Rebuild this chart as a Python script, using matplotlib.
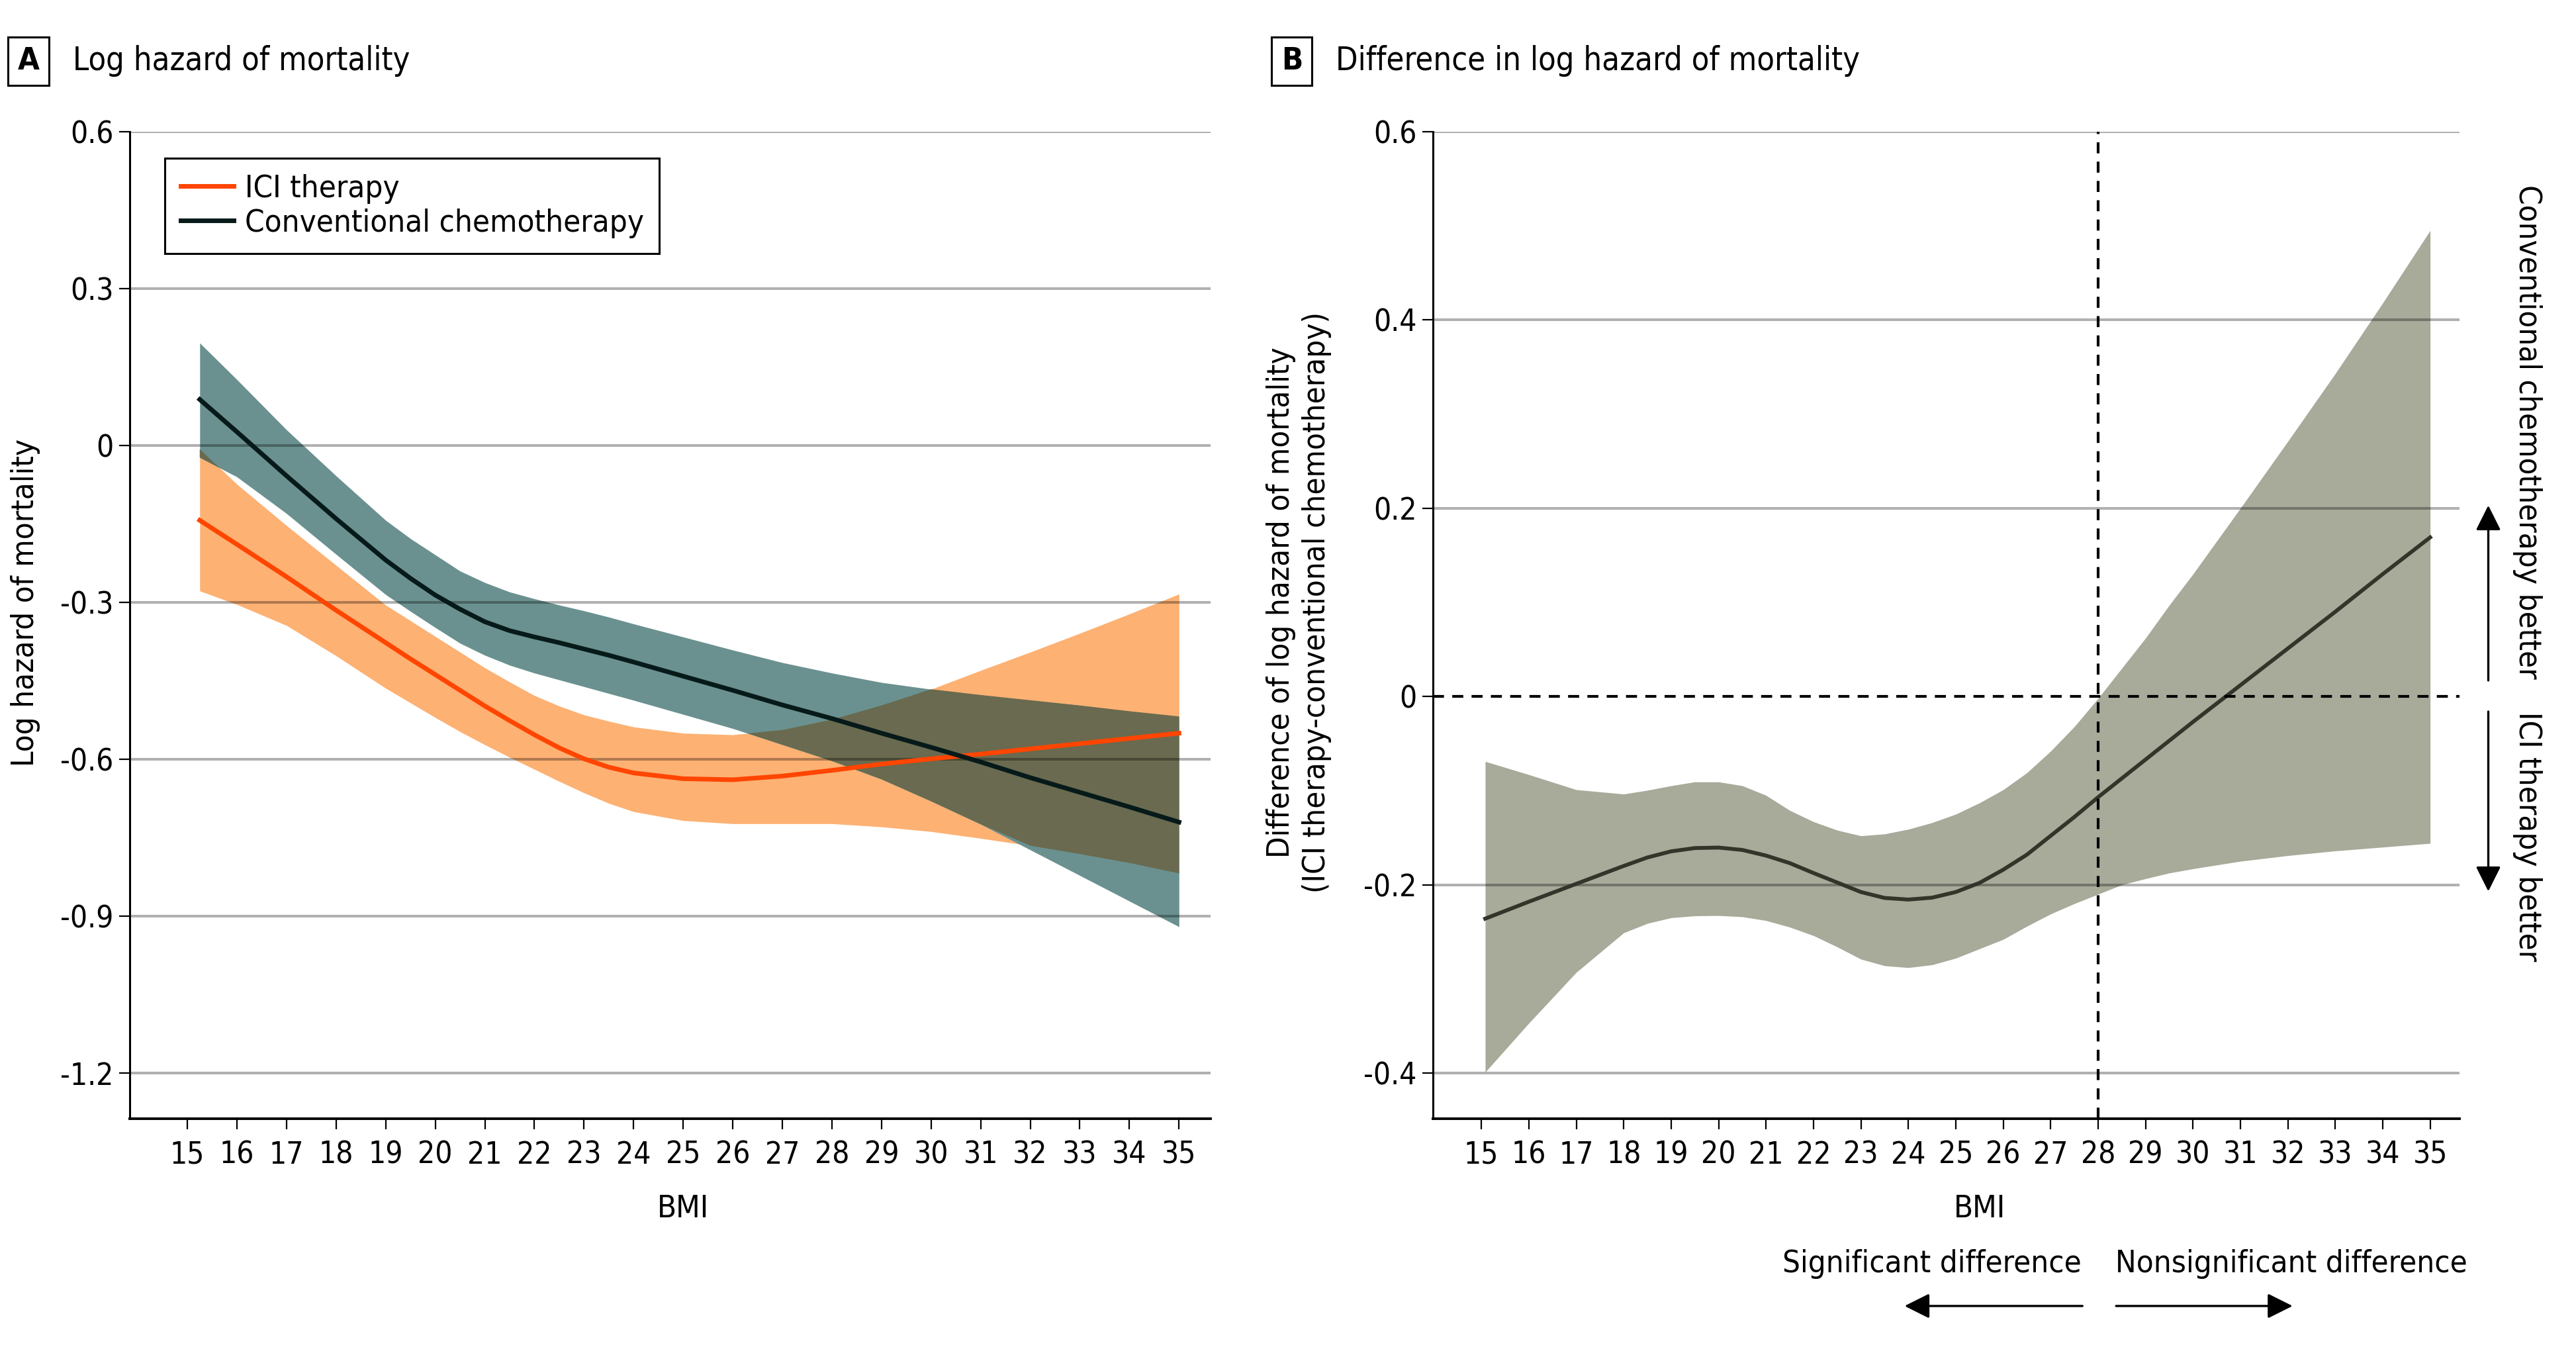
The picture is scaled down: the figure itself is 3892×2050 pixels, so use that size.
import matplotlib
matplotlib.use("Agg")
import matplotlib.pyplot as plt
import matplotlib.transforms as mtransforms
from matplotlib import font_manager
import numpy as np

# ---- data ----
bmi_a = [15.25, 16, 17, 18, 19, 19.5, 20, 20.5, 21, 21.5, 22, 22.5, 23, 23.5, 24,
         25, 26, 27, 28, 29, 30, 31, 32, 33, 34, 35]
ici_est = [-0.143, -0.189, -0.251, -0.315, -0.377, -0.408, -0.438, -0.468, -0.498, -0.526, -0.553,
           -0.578, -0.599, -0.615, -0.626, -0.637, -0.639, -0.632, -0.621, -0.609, -0.599, -0.590,
           -0.580, -0.570, -0.560, -0.550]
ici_hi = [-0.007, -0.074, -0.153, -0.229, -0.305, -0.335, -0.365, -0.395, -0.425, -0.452, -0.478,
          -0.498, -0.515, -0.527, -0.538, -0.550, -0.553, -0.544, -0.524, -0.497, -0.466, -0.430,
          -0.395, -0.359, -0.322, -0.284]
ici_lo = [-0.278, -0.304, -0.344, -0.402, -0.464, -0.492, -0.520, -0.547, -0.572, -0.596, -0.619,
          -0.642, -0.664, -0.684, -0.700, -0.717, -0.723, -0.723, -0.723, -0.729, -0.738, -0.751,
          -0.765, -0.781, -0.798, -0.818]
chemo_est = [0.088, 0.026, -0.058, -0.140, -0.219, -0.254, -0.286, -0.313, -0.337, -0.354, -0.366,
             -0.377, -0.389, -0.401, -0.414, -0.441, -0.468, -0.496, -0.522, -0.550, -0.577, -0.605,
             -0.635, -0.663, -0.691, -0.720]
chemo_hi = [0.196, 0.126, 0.030, -0.058, -0.143, -0.178, -0.209, -0.240, -0.262, -0.280, -0.293,
            -0.305, -0.316, -0.328, -0.341, -0.366, -0.391, -0.415, -0.435, -0.453, -0.466, -0.477,
            -0.487, -0.497, -0.508, -0.518]
chemo_lo = [-0.023, -0.060, -0.130, -0.208, -0.285, -0.317, -0.348, -0.378, -0.401, -0.420, -0.435,
            -0.448, -0.461, -0.474, -0.487, -0.514, -0.541, -0.572, -0.603, -0.638, -0.680, -0.724,
            -0.773, -0.822, -0.871, -0.920]

bmi_b = [15.08, 16, 17, 18, 18.5, 19, 19.5, 20, 20.5, 21, 21.5, 22, 22.5, 23, 23.5, 24, 24.5,
         25, 25.5, 26, 26.5, 27, 27.5, 28, 28.5, 29, 29.5, 30, 31, 32, 33, 34, 35]
diff_est = [-0.236, -0.218, -0.199, -0.180, -0.171, -0.1645, -0.161, -0.1605, -0.163, -0.169,
            -0.177, -0.1875, -0.1976, -0.2077, -0.214, -0.2157, -0.2137, -0.2077, -0.198, -0.184,
            -0.168, -0.148, -0.128, -0.107, -0.087, -0.067, -0.047, -0.027, 0.012, 0.051, 0.090,
            0.130, 0.169]
diff_hi = [-0.069, -0.083, -0.099, -0.1036, -0.0996, -0.0948, -0.0907, -0.0907, -0.0948, -0.105,
           -0.121, -0.133, -0.142, -0.148, -0.146, -0.141, -0.134, -0.125, -0.113, -0.099, -0.081,
           -0.058, -0.032, -0.002, 0.030, 0.062, 0.097, 0.130, 0.200, 0.271, 0.343, 0.418, 0.495]
diff_lo = [-0.399, -0.347, -0.293, -0.251, -0.241, -0.235, -0.233, -0.2327, -0.234, -0.238,
           -0.245, -0.254, -0.266, -0.279, -0.286, -0.288, -0.285, -0.278, -0.268, -0.258, -0.244,
           -0.231, -0.220, -0.210, -0.200, -0.1935, -0.1875, -0.183, -0.175, -0.169, -0.164,
           -0.160, -0.156]

xticks = list(range(15, 36))
yticks_a = [0.6, 0.3, 0, -0.3, -0.6, -0.9, -1.2]
yticks_b = [0.6, 0.4, 0.2, 0, -0.2, -0.4]
sig_cut = 28

# ---- font: prefer a narrow face ----
names = {f.name for f in font_manager.fontManager.ttflist}
stretch = "normal"
if any(f.name == "DejaVu Sans" and f.stretch == "condensed" for f in font_manager.fontManager.ttflist):
    family, stretch = "DejaVu Sans", "condensed"
elif "Liberation Sans Narrow" in names:
    family = "Liberation Sans Narrow"
else:
    family = "DejaVu Sans"
plt.rcParams["font.family"] = [family, "DejaVu Sans"]
plt.rcParams["font.stretch"] = stretch

FS = 34
TICK_FS = 33
C_ICI, C_ICI_BAND = "#ff4500", "#fdb173"
C_CHEMO, C_CHEMO_BAND = "#071a1a", "#6a9190"
C_OVERLAP = "#696a4f"
C_DIFF, C_DIFF_BAND = "#33352a", "#a8aa9a"

fig = plt.figure(figsize=(38.92, 20.5), dpi=100)
ax1 = fig.add_axes([0.0504, 0.1756, 0.4196, 0.7274])
ax2 = fig.add_axes([0.5563, 0.1756, 0.3985, 0.7274])


def style_axes(ax, xlim, ylim, yticks, grid_vals):
    ax.set_xlim(*xlim)
    ax.set_ylim(*ylim)
    ax.set_xticks(xticks)
    ax.set_yticks(yticks)
    ax.set_yticklabels([f"{v:g}" for v in yticks])
    for s in ["top", "right"]:
        ax.spines[s].set_visible(False)
    ax.spines["left"].set_linewidth(2.2)
    ax.spines["bottom"].set_linewidth(2.8)
    ax.tick_params(axis="x", length=11.5, width=1.6, pad=12, labelsize=TICK_FS)
    ax.tick_params(axis="y", length=11.5, width=1.6, pad=6, labelsize=TICK_FS)
    for v in grid_vals:
        ax.axhline(v, color="black", alpha=0.31, lw=2.9, zorder=2)


# ---- panel A ----
x = np.array(bmi_a)
ax1.fill_between(x, ici_lo, ici_hi, color=C_ICI_BAND, lw=0, zorder=1)
ax1.fill_between(x, chemo_lo, chemo_hi, color=C_CHEMO_BAND, lw=0, zorder=1.1)
ov_lo = np.maximum(ici_lo, chemo_lo)
ov_hi = np.minimum(ici_hi, chemo_hi)
ax1.fill_between(x, ov_lo, ov_hi, where=ov_hi > ov_lo, interpolate=True,
                 color=C_OVERLAP, lw=0, zorder=1.2)
ax1.plot(x, ici_est, color=C_ICI, lw=5, zorder=3, label="ICI therapy")
ax1.plot(x, chemo_est, color=C_CHEMO, lw=5, zorder=3, label="Conventional chemotherapy")
style_axes(ax1, (13.84, 35.64), (-1.287, 0.6), yticks_a, yticks_a)
ax1.set_ylabel("Log hazard of mortality", fontsize=FS)
ax1.yaxis.set_label_coords(-0.083, 0.523)
ax1.text(25, 0.1088, "BMI", fontsize=FS, ha="center", va="center",
         transform=mtransforms.blended_transform_factory(ax1.transData, fig.transFigure))
leg = ax1.legend(loc="upper left", bbox_to_anchor=(0.0325, 0.973), fontsize=FS,
                 frameon=True, fancybox=False, edgecolor="black", framealpha=1,
                 handlelength=1.7, handletextpad=0.35, labelspacing=0.15,
                 borderpad=0.5, borderaxespad=0)
leg.get_frame().set_linewidth(2.2)

# ---- panel B ----
xb = np.array(bmi_b)
ax2.fill_between(xb, diff_lo, diff_hi, color=C_DIFF_BAND, lw=0, zorder=1)
ax2.plot(xb, diff_est, color=C_DIFF, lw=4.2, zorder=3)
style_axes(ax2, (13.98, 35.62), (-0.4485, 0.6), yticks_b, [v for v in yticks_b if v != 0])
ax2.axhline(0, color="black", lw=3, dashes=(4, 3), zorder=4)
ax2.axvline(sig_cut, color="black", lw=3, dashes=(4, 3), zorder=4)
ax2.set_ylabel("Difference of log hazard of mortality\n(ICI therapy-conventional chemotherapy)",
               fontsize=FS, linespacing=1.25)
ax2.yaxis.set_label_coords(-0.099, 0.5232)

tb = mtransforms.blended_transform_factory(ax2.transData, fig.transFigure)
ax2.text(25.5, 0.1088, "BMI", fontsize=FS, ha="center", va="center", transform=tb)
ax2.text(sig_cut - 0.35, 0.0683, "Significant difference", fontsize=FS, ha="right", va="center", transform=tb)
ax2.text(sig_cut + 0.37, 0.0683, "Nonsignificant difference", fontsize=FS, ha="left", va="center", transform=tb)
arrow_kw = dict(arrowstyle="-|>,head_length=0.8,head_width=0.4", lw=2.4, color="black",
                mutation_scale=29, shrinkA=0, shrinkB=0)
ax2.annotate("", xy=(23.92, 0.0376), xytext=(sig_cut - 0.33, 0.0376), xycoords=tb,
             arrowprops=arrow_kw, annotation_clip=False)
ax2.annotate("", xy=(32.1, 0.0376), xytext=(sig_cut + 0.38, 0.0376), xycoords=tb,
             arrowprops=arrow_kw, annotation_clip=False)

ty = ax2.get_yaxis_transform()
ax2.annotate("", xy=(1.028, 0.203), xytext=(1.028, 0.017), xycoords=ty,
             arrowprops=arrow_kw, annotation_clip=False)
ax2.annotate("", xy=(1.028, -0.207), xytext=(1.028, -0.016), xycoords=ty,
             arrowprops=arrow_kw, annotation_clip=False)
ax2.text(1.066, 0.019, "Conventional chemotherapy better", rotation=-90, fontsize=FS,
         ha="center", va="bottom", transform=ty)
ax2.text(1.066, -0.016, "ICI therapy better", rotation=-90, fontsize=FS,
         ha="center", va="top", transform=ty)

# ---- panel headers ----
box = dict(boxstyle="square,pad=0.3", facecolor="white", edgecolor="black", lw=2.2)
fig.text(0.01105, 0.955, "A", fontsize=FS, fontweight="bold", ha="center", va="center", bbox=box)
fig.text(0.02826, 0.955, "Log hazard of mortality", fontsize=FS + 1, ha="left", va="center")
fig.text(0.5015, 0.955, "B", fontsize=FS, fontweight="bold", ha="center", va="center", bbox=box)
fig.text(0.5185, 0.955, "Difference in log hazard of mortality", fontsize=FS + 1, ha="left", va="center")

fig.savefig("out.png", dpi=100, facecolor="white")
